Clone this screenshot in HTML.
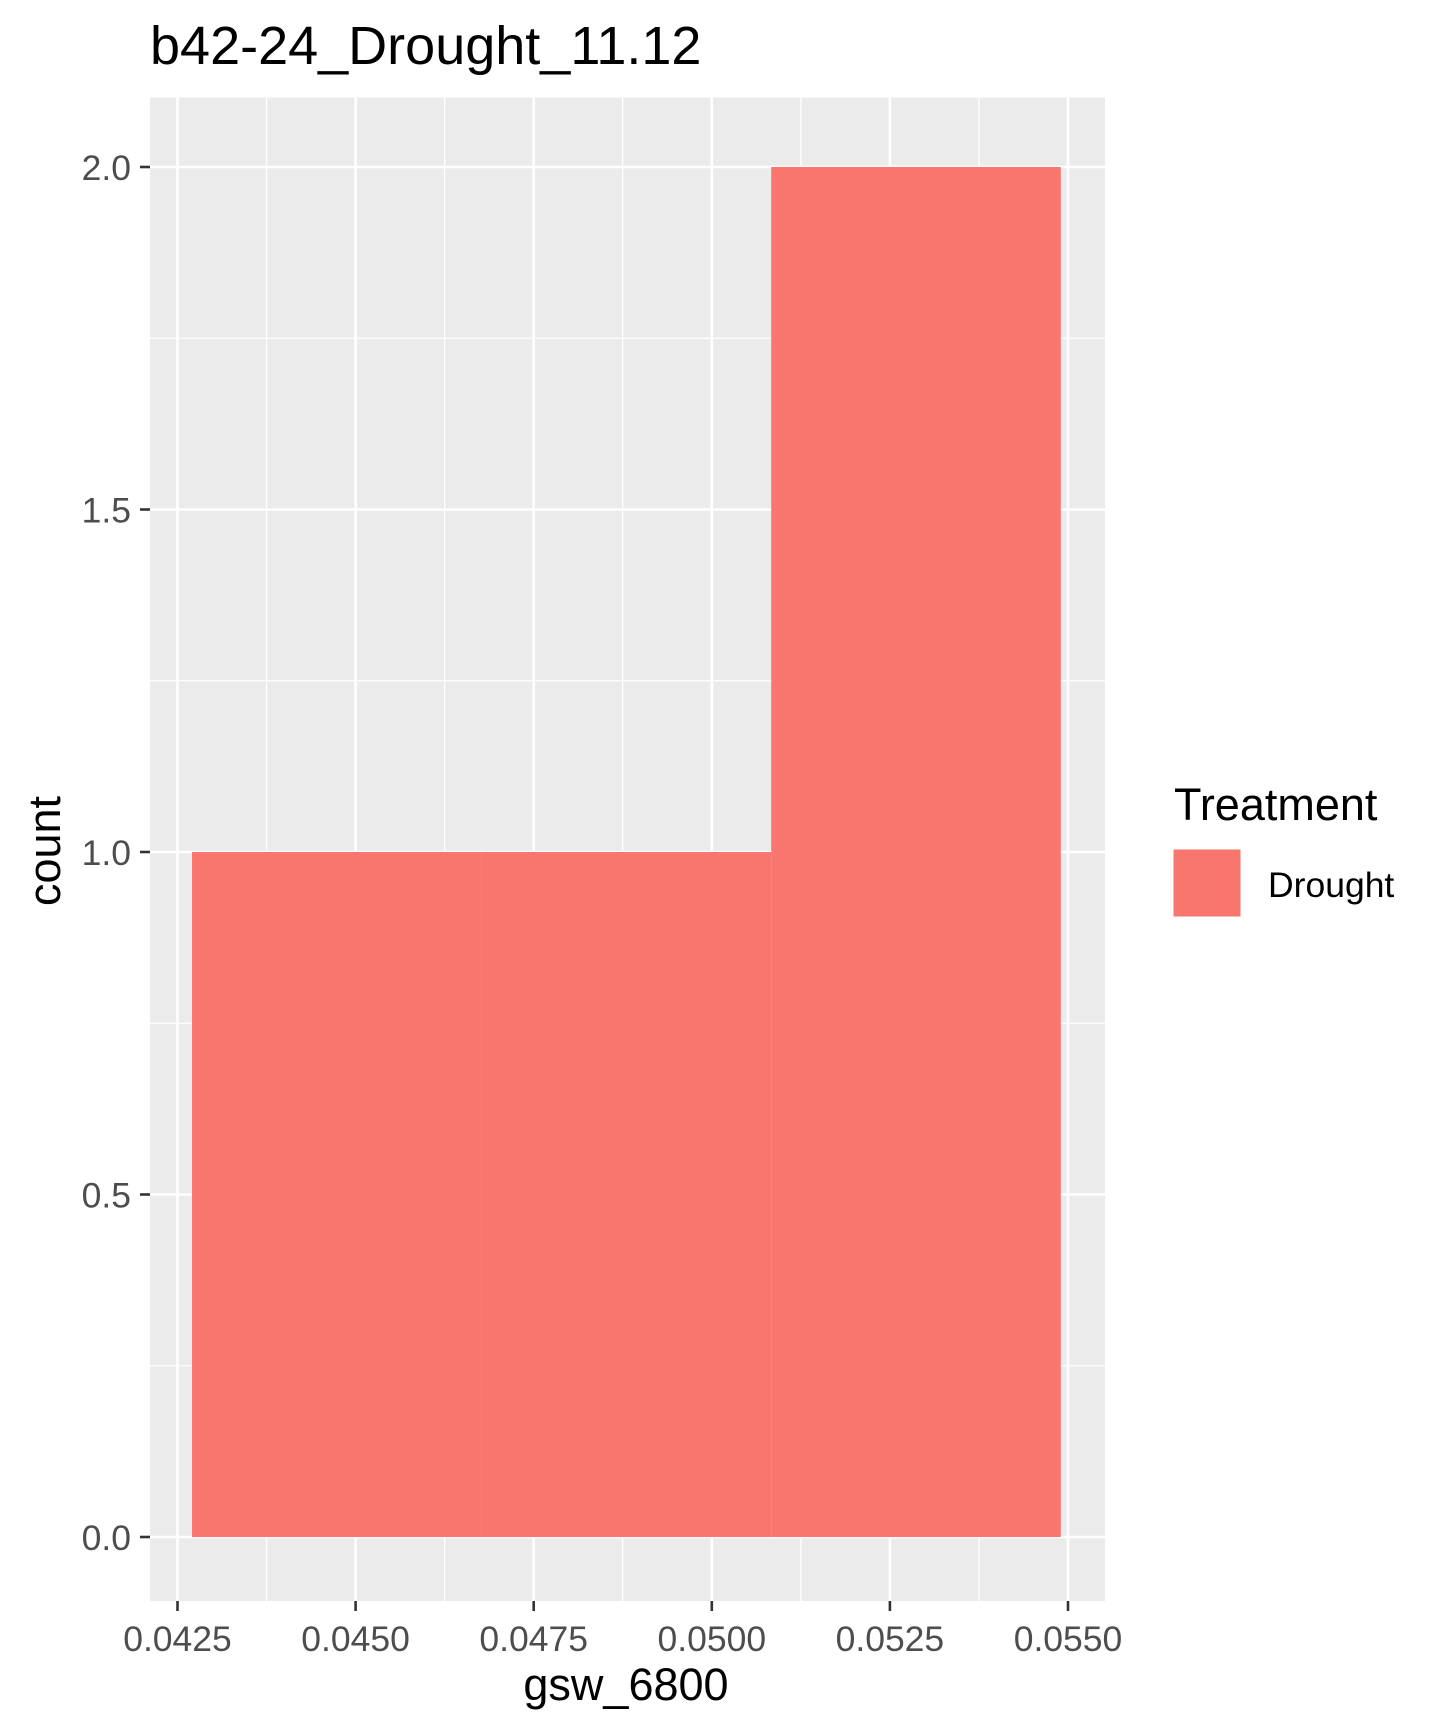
<!DOCTYPE html>
<html><head><meta charset="utf-8"><style>
html,body{margin:0;padding:0;background:#fff;}
svg{display:block;font-family:"Liberation Sans",Arial,sans-serif;}
</style></head><body>
<svg id="chart" width="1441" height="1733" viewBox="0 0 1441 1733">
<text x="150" y="64" font-size="54" fill="#000">b42-24_Drought_11.12</text>
<rect x="150" y="97.5" width="955" height="1503.5" fill="#EBEBEB"/>
<g id="grid"></g>
<g id="bars"></g>
<g id="axes"></g>
<text x="626" y="1700" font-size="45" text-anchor="middle" fill="#000">gsw_6800</text>
<text transform="translate(60,851) rotate(-90)" font-size="45" text-anchor="middle" fill="#000">count</text>
<text x="1174" y="820" font-size="45" fill="#000">Treatment</text>
<rect x="1173" y="849" width="68" height="68" fill="#F8766D" stroke="#fff" stroke-width="1"/>
<text x="1268" y="897" font-size="35.5" fill="#000">Drought</text>
</svg>
<script>
const binEdges = [0.042704, 0.046769, 0.050834, 0.054899];
const counts = [1, 1, 2];
const xTicks = [0.0425, 0.0450, 0.0475, 0.0500, 0.0525, 0.0550];
const xTickLabels = ["0.0425","0.0450","0.0475","0.0500","0.0525","0.0550"];
const yTicks = [0, 0.5, 1, 1.5, 2];
const yTickLabels = ["0.0","0.5","1.0","1.5","2.0"];

const NS="http://www.w3.org/2000/svg";
const PL=150, PR=1105, PT=97.5, PB=1601;
function xs(v){return 177.5+(v-0.0425)*(1068-177.5)/(0.0550-0.0425);}
function ys(v){return 1537-(v)*(1537-167)/2;}
function mk(tag,attrs,parent){const e=document.createElementNS(NS,tag);for(const k in attrs)e.setAttribute(k,attrs[k]);parent.appendChild(e);return e;}
const grid=document.getElementById('grid'), bars=document.getElementById('bars'), axes=document.getElementById('axes');
for(let i=0;i<xTicks.length-1;i++){const m=(xTicks[i]+xTicks[i+1])/2;const l=mk('line',{x1:xs(m),x2:xs(m),y1:PT,y2:PB,stroke:'#fff','stroke-width':1.3},grid);

}
for(let i=0;i<yTicks.length-1;i++){const m=(yTicks[i]+yTicks[i+1])/2;const l=mk('line',{x1:PL,x2:PR,y1:ys(m),y2:ys(m),stroke:'#fff','stroke-width':1.3},grid);

}
xTicks.forEach((t,i)=>{const l=mk('line',{x1:xs(t),x2:xs(t),y1:PT,y2:PB,stroke:'#fff','stroke-width':2.6},grid);


const tk=mk('line',{x1:xs(t),x2:xs(t),y1:PB,y2:PB+10,stroke:'#333','stroke-width':2.6},axes);


const tx=mk('text',{x:xs(t),y:1651,'font-size':35.5,'text-anchor':'middle',fill:'#4D4D4D'},axes);tx.textContent=xTickLabels[i];

});
yTicks.forEach((t,i)=>{const l=mk('line',{x1:PL,x2:PR,y1:ys(t),y2:ys(t),stroke:'#fff','stroke-width':2.6},grid);


const tk=mk('line',{x1:PL-10,x2:PL,y1:ys(t),y2:ys(t),stroke:'#333','stroke-width':2.6},axes);


const tx=mk('text',{x:PL-19,y:ys(t)+13,'font-size':35.5,'text-anchor':'end',fill:'#4D4D4D'},axes);tx.textContent=yTickLabels[i];

});
counts.forEach((c,i)=>{const x0=xs(binEdges[i]),x1=xs(binEdges[i+1]);
const r=mk('rect',{x:x0,y:ys(c),width:x1-x0,height:ys(0)-ys(c),fill:'#F8766D'},bars);

});
</script>
</body></html>
